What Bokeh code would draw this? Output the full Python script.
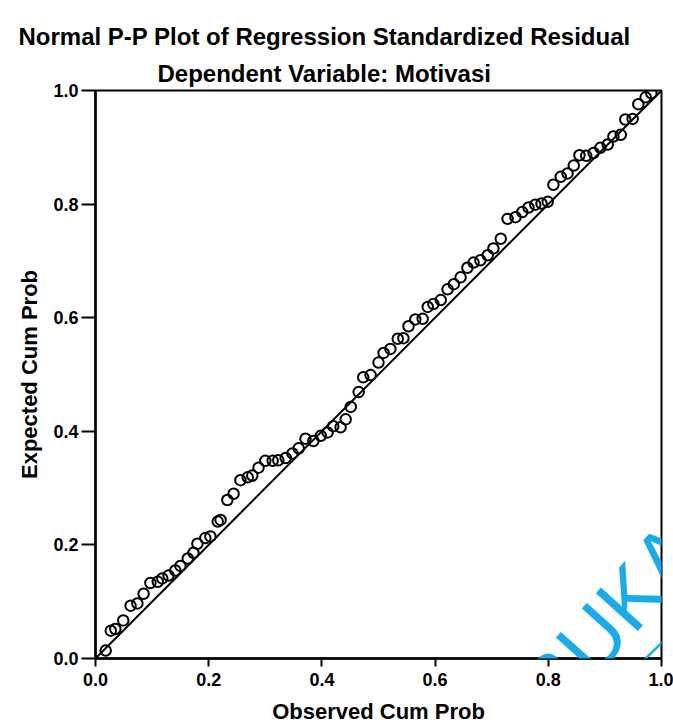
from bokeh.plotting import figure
from bokeh.models import Range1d, FixedTicker, Title, Slope, Label, Arrow, NumeralTickFormatter
from bokeh.embed import file_html
from bokeh.resources import INLINE

# Normal P-P plot of the regression standardized residuals
obs_cum_prob = [
    0.018, 0.027, 0.035, 0.049, 0.062, 0.074, 0.085, 0.097, 0.110, 0.118,
    0.129, 0.141, 0.150, 0.163, 0.173, 0.180, 0.194, 0.203, 0.216, 0.221,
    0.233, 0.244, 0.256, 0.269, 0.277, 0.288, 0.300, 0.313, 0.323, 0.336,
    0.348, 0.359, 0.371, 0.385, 0.398, 0.410, 0.420, 0.433, 0.442, 0.451,
    0.465, 0.473, 0.486, 0.500, 0.509, 0.521, 0.534, 0.544, 0.553, 0.565,
    0.578, 0.587, 0.597, 0.610, 0.622, 0.633, 0.645, 0.657, 0.668, 0.680,
    0.693, 0.703, 0.716, 0.728, 0.742, 0.754, 0.765, 0.777, 0.788, 0.799,
    0.809, 0.822, 0.834, 0.845, 0.855, 0.867, 0.880, 0.892, 0.905, 0.915,
    0.928, 0.936, 0.949, 0.959, 0.972, 0.982,
]
exp_cum_prob = [
    0.014, 0.049, 0.052, 0.067, 0.093, 0.097, 0.114, 0.133, 0.135, 0.141,
    0.146, 0.155, 0.163, 0.176, 0.186, 0.202, 0.212, 0.215, 0.241, 0.244,
    0.279, 0.290, 0.314, 0.319, 0.322, 0.336, 0.348, 0.348, 0.349, 0.353,
    0.361, 0.370, 0.387, 0.383, 0.392, 0.398, 0.409, 0.407, 0.421, 0.443,
    0.469, 0.495, 0.499, 0.521, 0.538, 0.545, 0.563, 0.564, 0.585, 0.597,
    0.598, 0.619, 0.624, 0.631, 0.650, 0.659, 0.671, 0.688, 0.697, 0.701,
    0.710, 0.722, 0.739, 0.774, 0.777, 0.786, 0.794, 0.799, 0.801, 0.804,
    0.834, 0.848, 0.854, 0.868, 0.886, 0.885, 0.890, 0.899, 0.905, 0.919,
    0.922, 0.949, 0.950, 0.976, 0.988, 0.995,
]
tick_values = [0.0, 0.2, 0.4, 0.6, 0.8, 1.0]

FONT = "Liberation Sans"

p = figure(
    width=673, height=726,
    x_range=Range1d(0, 1), y_range=Range1d(0, 1),
    output_backend="svg", toolbar_location=None, title=None,
    min_border_left=95, min_border_right=12,
    min_border_top=90, min_border_bottom=68,
    background_fill_color="white", border_fill_color="white",
)
p.outline_line_color = "black"
p.outline_line_width = 2
p.grid.visible = False

# titles (sub-title first so it sits next to the frame); both start left of the frame
p.add_layout(Title(text="Dependent Variable: Motivasi", align="left", offset=62,
                   text_font=FONT, text_font_size="24px", text_font_style="bold",
                   text_color="black", standoff=8), "above")
p.add_layout(Title(text="Normal P-P Plot of Regression Standardized Residual", align="left",
                   offset=-77, text_font=FONT, text_font_size="24px", text_font_style="bold",
                   text_color="black", standoff=8), "above")

for ax in (p.xaxis[0], p.yaxis[0]):
    ax.ticker = FixedTicker(ticks=tick_values)
    ax.formatter = NumeralTickFormatter(format="0.0")
    ax.minor_tick_line_color = None
    ax.axis_line_width = 2.5
    ax.axis_line_color = "black"
    ax.major_tick_line_width = 2
    ax.major_tick_line_color = "black"
    ax.major_tick_in = 0
    ax.major_label_text_font = FONT
    ax.major_label_text_font_size = "18px"
    ax.major_label_text_font_style = "bold"
    ax.major_label_text_color = "black"
    ax.axis_label_text_font = FONT
    ax.axis_label_text_font_size = "22px"
    ax.axis_label_text_font_style = "bold"
    ax.axis_label_text_color = "black"

p.xaxis.axis_label = "Observed Cum Prob"
p.yaxis.axis_label = "Expected Cum Prob"
p.xaxis.major_tick_out = 8
p.yaxis.major_tick_out = 14
p.xaxis.major_label_standoff = 6
p.yaxis.major_label_standoff = 3
p.xaxis.axis_label_standoff = 10
p.yaxis.axis_label_standoff = 8

# reference diagonal
p.add_layout(Slope(gradient=1, y_intercept=0, line_color="black", line_width=2))

p.scatter(obs_cum_prob, exp_cum_prob, marker="circle", size=10.5,
          fill_color=None, line_color="black", line_width=2)

# repository watermark
wm_color = "#1cabe8"
p.add_layout(Label(x=0.813, y=-0.037, text="TERBUKA", angle=0.838,
                   text_align="center", text_baseline="middle",
                   text_font=FONT, text_font_size="82px", text_color=wm_color))
p.add_layout(Arrow(end=None, x_start=0.822, y_start=-0.146, x_end=1.051, y_end=0.077,
                   line_color=wm_color, line_width=2.5))

open("out.html", "w").write(file_html(p, INLINE))
